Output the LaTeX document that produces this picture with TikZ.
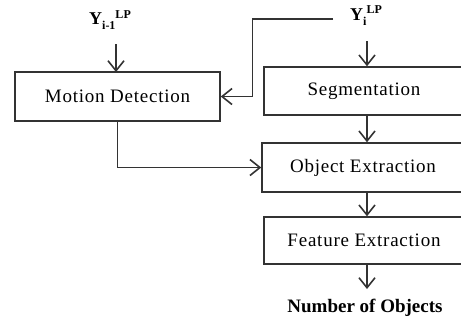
\documentclass[tikz,border=0pt]{standalone}
\usepackage{fontspec}
\setmainfont{Liberation Serif}
\usetikzlibrary{arrows.meta}
\newfontfamily\boxfont[LetterSpace=4]{Liberation Serif}
\begin{document}
\begin{tikzpicture}[x=1pt,y=-1pt,
  blk/.style={draw=black!80, line width=1.5pt, fill=white, inner sep=0pt,
    font=\boxfont\fontsize{19}{22}\selectfont},
  flow/.style={draw=black!80, line width=1.6pt,
    -{Straight Barb[length=10pt,width=16pt,line width=1.6pt]}},
  lbl/.style={inner sep=0pt, font=\bfseries\fontsize{18}{20}\selectfont},
  small/.style={font=\bfseries\fontsize{12}{12}\selectfont}]
\useasboundingbox (0,0) rectangle (461,322);
\clip (0,0) rectangle (461,322);

% processing blocks (the right-hand column runs past the page edge)
\node[blk, minimum width=205pt, minimum height=49pt] (motion) at (117.5,96.5) {Motion Detection};
\node[blk, minimum width=206pt, minimum height=48pt] (seg) at (367,91) {\hspace*{-6pt}Segmentation};
\node[blk, minimum width=208pt, minimum height=49pt] (obj) at (366,167.5) {\hspace*{-6pt}Object Extraction};
\node[blk, minimum width=206pt, minimum height=47pt] (feat) at (367,240.5) {\hspace*{-6pt}Feature Extraction};

% inputs and output
\node[lbl] (yprev) at (110,20) {Y\raisebox{-5pt}{\fontsize{12}{12}\selectfont i-1}\raisebox{6pt}{\fontsize{12}{12}\selectfont LP}};
\node[lbl] (ycur) at (366,16) {Y\raisebox{-5pt}{\fontsize{12}{12}\selectfont i}\raisebox{7pt}{\fontsize{12}{12}\selectfont LP}};
\node[lbl, font=\bfseries\fontsize{19}{21}\selectfont] (count) at (365,308) {Number of Objects};

\coordinate (bend) at (252.5,0);
\coordinate (tapend) at (333,19);
\coordinate (countin) at (367,289);

% connectors
\draw[flow] (116,44) -- (116,72);
\draw[flow] (367,41) -- (seg.north);
\draw[flow] (tapend) -- (bend |- tapend) |- (motion.east);
\draw[flow] (seg.south) -- (obj.north -| seg.south);
\draw[flow] (motion.south) |- (obj.west);
\draw[flow] (obj.south -| feat.north) -- (feat.north);
\draw[flow] (feat.south) -- (countin);
\end{tikzpicture}
\end{document}
